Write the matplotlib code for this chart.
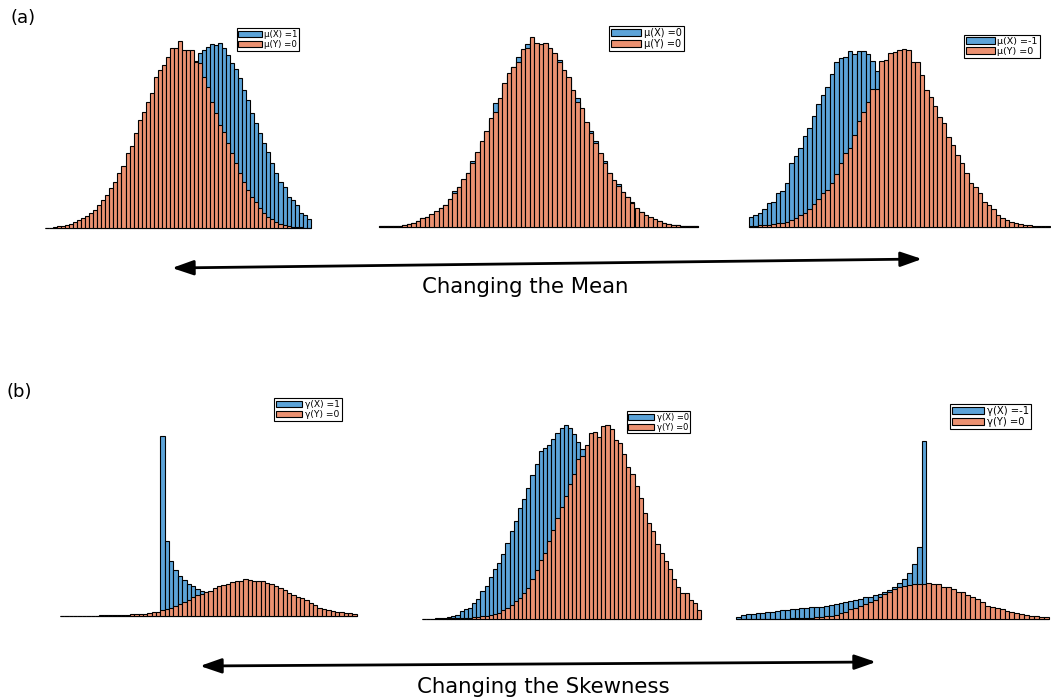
import numpy as np
import matplotlib
matplotlib.use('Agg')
import matplotlib.pyplot as plt
from matplotlib.patches import FancyArrowPatch

W, H = 1051, 700
BLUE = '#5ca3d8'
ORANGE = '#eb9171'

# bin counts, (a) changing the mean
mean_pos_x = [0, 0, 0, 0, 0, 0, 0, 1, 1, 2, 3,
              4, 6, 8, 11, 15, 20, 27, 35, 45, 58, 72, 90, 110, 130, 155, 180, 210, 240, 270, 300,
              335, 365, 395, 425, 455, 480,
              502, 527, 535, 545, 553, 550, 555, 540, 520, 495, 477, 450, 415, 385, 345, 315,
              285, 257, 230, 195, 165, 140, 125, 95, 85, 70, 45, 40, 27]
mean_pos_y = [2, 2, 5, 6, 8, 10, 12, 20, 24, 30, 38, 45, 55, 70, 85, 100, 120, 140, 165, 187,
              225, 247, 285, 325, 350, 380, 405, 453, 475, 490, 513, 540, 540, 563, 535, 535,
              535, 500, 495, 455, 425, 380, 345, 310, 290, 255, 225, 195, 165, 140, 115, 95,
              78, 62, 45, 35, 27, 20, 14, 10, 7, 5, 4, 3, 2, 1]

mean_zero_x = [1, 1, 2, 2, 3, 5, 7, 12, 17, 25, 30, 36, 45, 55, 64, 82,
               107, 118, 141, 160, 197, 222, 250, 285, 320, 370, 384, 425, 455, 478, 508, 528,
               548, 560, 547, 540, 548, 532, 515, 500, 468, 445, 406, 385, 352, 312, 288, 258,
               218, 197, 160, 138, 128, 103, 88, 75, 53, 43, 33, 27, 21, 17, 12, 8, 6, 4, 3, 2, 1, 1]
mean_zero_y = [1, 1, 2, 2, 3, 5, 8, 12, 18, 25, 30, 37, 48, 55, 65, 82,
               102, 120, 143, 162, 190, 225, 258, 287, 325, 345, 387, 430, 462, 480, 493, 532,
               537, 568, 550, 547, 550, 535, 520, 495, 470, 450, 410, 375, 357, 315, 280, 250,
               220, 192, 162, 140, 122, 105, 90, 72, 55, 44, 35, 28, 22, 18, 12, 9, 6, 4, 3, 2, 1, 1]

mean_neg_x = [30, 35, 42, 52, 70, 75, 102, 108, 132, 190, 213, 237, 272, 297, 333, 367, 395,
              420, 458, 493, 505, 510, 527, 518, 528, 527, 518, 498, 468,
              440, 410, 380, 345, 310, 280, 250, 215, 185, 160, 135, 112, 92, 75, 60, 47, 36,
              27, 20, 14, 10, 7, 5, 3, 2, 1, 0, 0, 0, 0, 0, 0, 0, 0, 0, 0, 0, 0]
mean_neg_y = [2, 3, 4, 5, 6, 8, 10, 12, 15, 20, 25, 35, 42, 52, 68, 82, 100, 110, 130, 158,
              190, 220, 235, 275, 318, 345, 375, 412, 412, 497, 500, 520, 523, 530, 533, 530,
              495, 495, 455, 410, 390, 362, 330, 310, 270, 245, 215, 190, 160, 132, 118, 100,
              75, 65, 52, 35, 25, 20, 15, 12, 8, 6, 4, 3, 2, 1, 1]

# bin counts, (b) changing the skewness
skew_pos_x = [0] * 23 + [540, 226, 166, 137, 121, 107, 97, 89, 81, 76, 72, 68,
              62, 57, 52, 48, 44, 40, 37, 34, 31, 28, 26, 24, 22, 20, 18, 16, 14, 13, 12, 11,
              10, 9, 8, 7, 6, 5, 5, 4, 4, 3, 3, 2, 2]
skew_pos_y = [1] * 9 + [2, 2, 3, 3, 3, 4, 4, 5, 5, 6, 7, 9, 11, 13, 17,
              22, 25, 30, 36, 43, 48, 56, 63, 66, 72, 76, 83, 90, 94, 96, 102, 105, 105, 110,
              108, 105, 104, 104, 100, 96, 90, 83, 78, 68, 62, 58, 53, 48, 38, 33, 25, 20, 18,
              16, 13, 11, 9, 8, 6]

skew_zero_x = [1, 1, 2, 3, 4, 5, 8, 10, 12, 25, 30, 35, 50, 62, 85, 100, 128, 150, 168, 195,
               230, 265, 295, 335, 362, 395, 432, 467, 505, 513, 523, 540, 558, 575, 583, 573,
               556, 533, 510, 480, 450, 415, 380, 345, 310, 275, 240, 205, 175, 148, 122, 100,
               80, 63, 50, 38, 28, 21, 15, 11, 8, 6, 4, 3, 2, 1, 1]
skew_zero_y = [0.5, 1, 1, 1, 2, 2, 3, 3, 4, 4, 5, 5, 6, 8, 9, 10, 12, 15, 20, 28, 35, 42, 55,
               65, 80, 95, 120, 148, 178, 200, 235, 268, 305, 338, 370, 405, 435, 480, 490, 523,
               560, 563, 548, 581, 583, 570, 538, 528, 496, 456, 435, 400, 363, 320, 290, 265,
               226, 198, 175, 150, 121, 96, 80, 78, 58, 50, 28]

skew_neg_x = [7, 11, 14, 15, 17, 19, 20, 22, 25, 28, 28, 29, 29, 32, 34, 35, 37, 37, 39, 42,
              44, 49, 51, 54, 57, 60, 65, 67, 72, 76, 80, 87, 97, 107, 119, 139, 165, 215,
              535] + [0] * 25
skew_neg_y = [0.5, 0.5, 1, 1, 1, 1, 1, 1, 1,
              1, 1, 2, 2, 3, 3, 4, 5, 6, 8, 10, 13, 17, 22, 29, 34, 39, 45, 52, 57, 67, 74, 82,
              89, 97, 100, 102, 104, 105,
              105, 107, 105, 104, 97, 95, 90, 82, 81, 71, 65, 59, 52, 39, 37, 32, 29, 25, 22,
              19, 15, 12, 10, 9, 7, 5]

panels = [
    # (left, baseline, right) in pixels, data, labels, legend corner, font size, handle length
    ((45, 228.3, 310.7), mean_pos_x, mean_pos_y, ['\u03bc(X) =1', '\u03bc(Y) =0'], (236.7, 28.3), 6.2, 2.7),
    ((379.3, 226.7, 698.3), mean_zero_x, mean_zero_y, ['\u03bc(X) =0', '\u03bc(Y) =0'], (609.3, 26), 7.0, 3.1),
    ((749, 226.7, 1049.7), mean_neg_x, mean_neg_y, ['\u03bc(X) =-1', '\u03bc(Y) =0'], (964.3, 35), 6.8, 3.0),
    ((60, 616, 356.7), skew_pos_x, skew_pos_y, ['\u03b3(X) =1', '\u03b3(Y) =0'], (274, 398.3), 6.6, 2.9),
    ((422, 619.3, 701.2), skew_zero_x, skew_zero_y, ['\u03b3(X) =0', '\u03b3(Y) =0'], (626.7, 411), 6.0, 3.1),
    ((736, 619, 1048.5), skew_neg_x, skew_neg_y, ['\u03b3(X) =-1', '\u03b3(Y) =0'], (950, 404.3), 7.2, 3.2),
]

fig = plt.figure(figsize=(W / 100, H / 100), dpi=100)

for (left, base, right), xs, ys, labels, (lx, ly), fs, hl in panels:
    ax = fig.add_axes([left / W, (H - base) / H, (right - left) / W, 200 / H])
    n = len(xs)
    pos = np.arange(n)
    ax.bar(pos, xs, width=1, align='edge', color=BLUE, edgecolor='black',
           linewidth=0.8, label=labels[0], clip_on=False)
    ax.bar(pos, ys, width=1, align='edge', color=ORANGE, edgecolor='black',
           linewidth=0.8, label=labels[1], clip_on=False)
    ax.set_xlim(0, n)
    ax.set_ylim(0, 600)
    ax.axis('off')
    leg = ax.legend(loc='upper left', bbox_to_anchor=(lx / W, 1 - ly / H),
                    bbox_transform=fig.transFigure, fontsize=fs, fancybox=False,
                    edgecolor='black', framealpha=1, borderpad=0.2, borderaxespad=0,
                    handlelength=hl, handleheight=0.7, labelspacing=0.1,
                    handletextpad=0.3)
    leg.get_frame().set_linewidth(0.8)

# double-headed arrows with captions
for (x0, y0), (x1, y1) in [((172, 268), (922, 259)), ((200, 666), (876, 662))]:
    arr = FancyArrowPatch((x0 / W, 1 - y0 / H), (x1 / W, 1 - y1 / H),
                          transform=fig.transFigure,
                          arrowstyle='<|-|>,head_length=13,head_width=4.5',
                          mutation_scale=1, lw=2, color='black',
                          shrinkA=0, shrinkB=0)
    fig.add_artist(arr)

fig.text(525 / W, 1 - 287 / H, 'Changing the Mean', ha='center', va='center', fontsize=15.3)
fig.text(543 / W, 1 - 687 / H, 'Changing the Skewness', ha='center', va='center', fontsize=15.3)
fig.text(10 / W, 1 - 18 / H, '(a)', ha='left', va='center', fontsize=13)
fig.text(7 / W, 1 - 392 / H, '(b)', ha='left', va='center', fontsize=13)

fig.savefig('out.png', dpi=100)
